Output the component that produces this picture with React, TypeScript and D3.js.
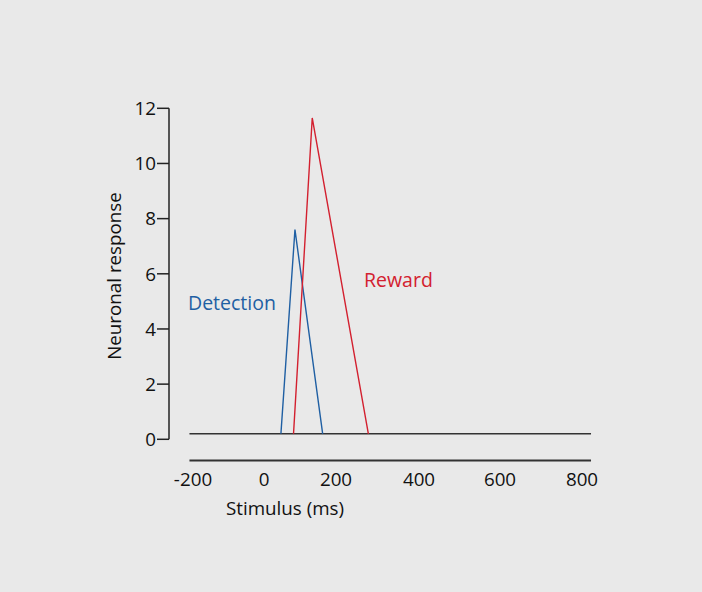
import React from "react";
import * as d3 from "d3";

const xTicks = [-200, 0, 200, 400, 600, 800];
const xTickPos = [193, 264, 336, 419, 500, 582];
const yTicks = [0, 2, 4, 6, 8, 10, 12];

const baselineTime = [-210, 822];
const baselineValue = 0.2;
const detectionTime = [47, 86, 163];
const detectionValue = [0.2, 7.6, 0.2];
const rewardTime = [82, 134, 278];
const rewardValue = [0.2, 11.65, 0.2];

const W = 702;
const H = 592;

export default function App() {
  const x = d3.scaleLinear().domain(xTicks).range(xTickPos);
  const y = d3.scaleLinear().domain([0, 12]).range([439.3, 108.3]);
  const line = d3
    .line<[number, number]>()
    .x((d) => x(d[0]))
    .y((d) => y(d[1]));

  const baseline: [number, number][] = baselineTime.map((t) => [t, baselineValue]);
  const det: [number, number][] = detectionTime.map((t, i) => [t, detectionValue[i]]);
  const rew: [number, number][] = rewardTime.map((t, i) => [t, rewardValue[i]]);

  const font = "'Open Sans', 'Noto Sans', sans-serif";
  const axisY = 460.5;
  const fs = 18.8;

  return (
    <div style={{ position: "fixed", left: 0, top: 0 }}>
      <svg width={W} height={H} style={{ display: "block", background: "#e9e9e9" }}>
        <rect x={0} y={0} width={W} height={H} fill="#e9e9e9" />
        {/* y axis */}
        <line x1={169} x2={169} y1={y(12)} y2={y(0)} stroke="#222" strokeWidth={1.5} />
        {yTicks.map((t) => (
          <g key={t}>
            <line x1={157} x2={169} y1={y(t)} y2={y(t)} stroke="#222" strokeWidth={1.5} />
            <text
              x={156}
              y={y(t)}
              dy="0.36em"
              textAnchor="end"
              fontFamily={font}
              fontSize={fs}
              fill="#111"
            >
              {t}
            </text>
          </g>
        ))}
        {/* x axis */}
        <line
          x1={x(baselineTime[0])}
          x2={x(baselineTime[1])}
          y1={axisY}
          y2={axisY}
          stroke="#333"
          strokeWidth={1.8}
        />
        {xTicks.map((t) => (
          <text
            key={t}
            x={x(t)}
            y={486}
            textAnchor="middle"
            fontFamily={font}
            fontSize={fs}
            fill="#111"
          >
            {t}
          </text>
        ))}
        <text x={285} y={515} textAnchor="middle" fontFamily={font} fontSize={fs} fill="#111">
          Stimulus (ms)
        </text>
        <text
          transform={`translate(121,276) rotate(-90)`}
          textAnchor="middle"
          fontFamily={font}
          fontSize={fs}
          fill="#111"
        >
          Neuronal response
        </text>
        {/* baseline */}
        <path d={line(baseline) || ""} fill="none" stroke="#333" strokeWidth={1.6} />
        <path d={line(det) || ""} fill="none" stroke="#1f5fa3" strokeWidth={1.4} strokeLinejoin="miter" />
        <path d={line(rew) || ""} fill="none" stroke="#d3202f" strokeWidth={1.4} strokeLinejoin="miter" />
        <text x={188} y={310} fontFamily={font} fontSize={19.5} fill="#1f5fa3">
          Detection
        </text>
        <text x={364} y={286.5} fontFamily={font} fontSize={19.5} fill="#d3202f">
          Reward
        </text>
      </svg>
    </div>
  );
}
